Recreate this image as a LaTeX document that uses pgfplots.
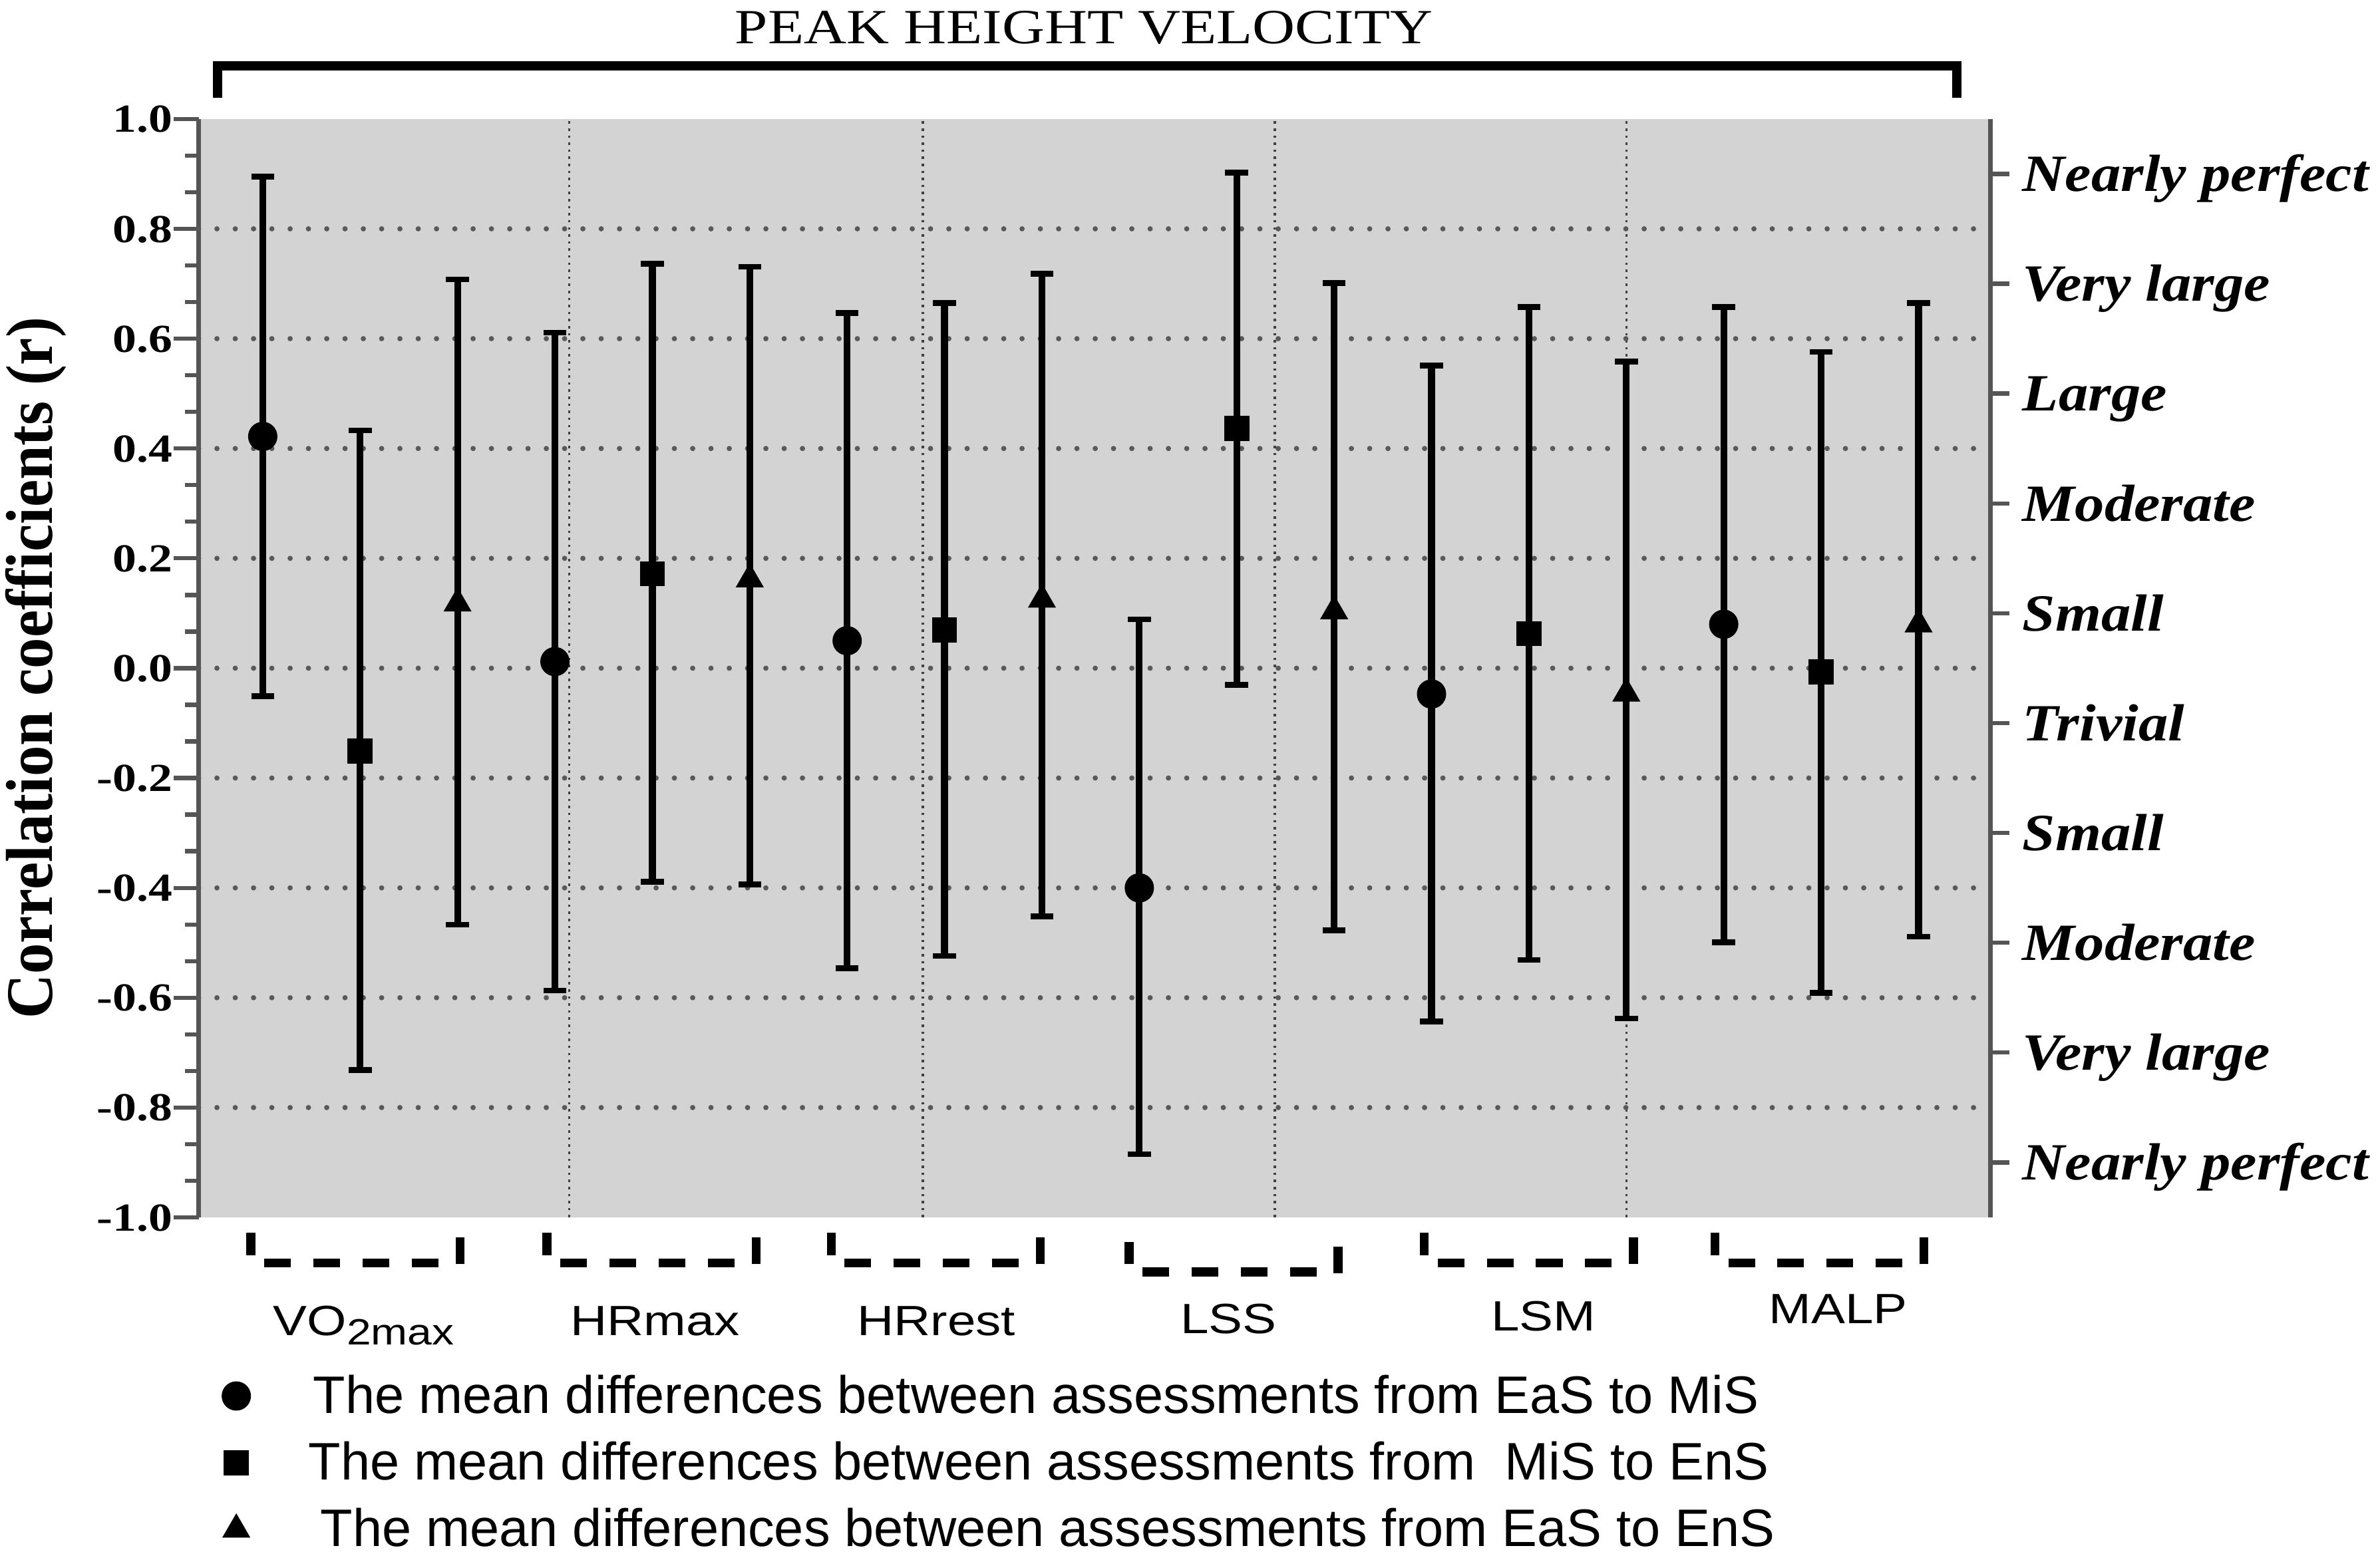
\documentclass[border=0pt]{standalone}
\usepackage{fontspec}
\setmainfont{Liberation Serif}
\newfontfamily\titlefont{Liberation Serif}[FakeStretch=1.2]
\newfontfamily\tickfont{Liberation Serif}[FakeStretch=1.2]
\newfontfamily\ylabfont{Liberation Serif}[FakeStretch=0.93]
\newfontfamily\rightfont{Liberation Serif}[FakeStretch=1.13]
\newfontfamily\grpfont{Liberation Sans}[FakeStretch=1.2]
\newfontfamily\legfont{Liberation Sans}
\usepackage{pgfplots}
\pgfplotsset{compat=1.18}
\usepackage{pgfplotstable}
\definecolor{bggray}{RGB}{211,211,211}
\definecolor{axgray}{RGB}{85,85,85}

% EaS to MiS (circles)
\pgfplotstableread{
x  y      ep    em
0  0.422  0.473 0.473
3  0.012  0.599 0.599
6  0.050  0.597 0.596
9  -0.400 0.489 0.485
12 -0.047 0.598 0.596
15 0.080  0.578 0.579
}\circdata
% MiS to EnS (squares)
\pgfplotstableread{
x  y      ep    em
1  -0.151 0.584 0.581
4  0.172  0.564 0.561
7  0.070  0.595 0.594
10 0.437  0.465 0.467
13 0.063  0.595 0.594
16 -0.007 0.583 0.584
}\sqdata
% EaS to EnS (triangles)
\pgfplotstableread{
x  y      ep    em
2  0.118  0.590 0.585
5  0.162  0.569 0.556
8  0.125  0.593 0.577
11 0.104  0.597 0.581
14 -0.046 0.604 0.592
17 0.080  0.585 0.569
}\tridata

\begin{document}
\begin{tikzpicture}
\begin{axis}[
  at={(0,0)}, anchor=south west,
  scale only axis, width=12.047cm, height=7.386cm,
  xmin=-0.658, xmax=17.74, ymin=-1, ymax=1,
  clip=false,
  axis background/.style={fill=bggray},
  separate axis lines,
  x axis line style={draw=none},
  y axis line style={draw=axgray, line width=0.85pt},
  xtick=\empty,
  extra x ticks={3.146,6.777,10.39,14.003},
  extra x tick labels={,,,},
  extra x tick style={major tick length=0pt, grid=major,
     major grid style={black!75, line width=0.45pt, dash pattern=on 0.45pt off 0.9pt}},
  ytick={-1,-0.8,-0.6,-0.4,-0.2,0,0.2,0.4,0.6,0.8,1},
  yticklabels={-1.0,-0.8,-0.6,-0.4,-0.2,0.0,0.2,0.4,0.6,0.8,1.0},
  minor y tick num=2,
  ytick pos=left,
  tick align=outside,
  major tick length=0.17cm,
  minor tick length=0.094cm,
  tick style={axgray, line width=0.8pt},
  yticklabel style={font=\tickfont\bfseries\fontsize{7.6}{8}\selectfont, anchor=east, inner sep=0pt, text height=5.1pt, text depth=0pt},
  extra y ticks={-0.8,-0.6,-0.4,-0.2,0,0.2,0.4,0.6,0.8},
  extra y tick labels={,,,,,,,,},
  extra y tick style={major tick length=0pt, grid=major,
     major grid style={black!65, line width=1pt, dash pattern=on 0pt off 3.5pt, line cap=round}},
  ylabel={Correlation coefficients (r)},
  every axis y label/.style={at={(axis description cs:-0.0817,0.5)}, rotate=90, anchor=base,
     font=\ylabfont\bfseries\fontsize{12.7}{14}\selectfont},
  legend cell align=left,
  legend style={at={(axis description cs:0,0)}, anchor=north west, xshift=0.046cm, yshift=-1.062cm,
     draw=none, fill=none, inner sep=0pt, outer sep=0pt, row sep=5.57pt,
     font=\legfont\fontsize{10.1}{12}\selectfont,
     nodes={inner sep=0pt, text height=7.2pt, text depth=0pt}},
  legend image code/.code={\draw[#1] plot coordinates {(0.2cm,-0.35pt)}; \path (0,0) (0.71cm,0);},
]
\addplot[only marks, mark=*, mark size=2.6pt, black,
  error bars/.cd, y dir=both, y explicit,
  error bar style={line width=1.3pt, black},
  error mark options={rotate=90, black, line width=1.1pt, mark size=2.2pt}]
  table[x=x, y=y, y error plus=ep, y error minus=em]{\circdata};
\addlegendentry{The mean differences between assessments from EaS to MiS}
\addplot[only marks, mark=square*, mark size=2.2pt, black,
  error bars/.cd, y dir=both, y explicit,
  error bar style={line width=1.3pt, black},
  error mark options={rotate=90, black, line width=1.1pt, mark size=2.2pt}]
  table[x=x, y=y, y error plus=ep, y error minus=em]{\sqdata};
\addlegendentry{\hspace*{-0.9pt}The mean differences between assessments from\ \ MiS to EnS}
\addplot[only marks, mark=triangle*, mark size=2.7pt, black,
  error bars/.cd, y dir=both, y explicit,
  error bar style={line width=1.3pt, black},
  error mark options={rotate=90, black, line width=1.1pt, mark size=2.2pt}]
  table[x=x, y=y, y error plus=ep, y error minus=em]{\tridata};
\addlegendentry{\hspace*{1.4pt}The mean differences between assessments from EaS to EnS}

% group brackets
\draw[line width=1.7pt] (axis cs:-0.122,-1.0282) -- (axis cs:-0.122,-1.0685);
\draw[line width=1.7pt, dash pattern=on 5.1pt off 4.3pt] (axis cs:0.015,-1.0826) -- (axis cs:1.804,-1.0826);
\draw[line width=1.7pt] (axis cs:2.024,-1.0362) -- (axis cs:2.024,-1.0848);

\draw[line width=1.7pt] (axis cs:2.918,-1.0282) -- (axis cs:2.918,-1.0685);
\draw[line width=1.7pt, dash pattern=on 5.1pt off 4.3pt] (axis cs:3.055,-1.0826) -- (axis cs:4.844,-1.0826);
\draw[line width=1.7pt] (axis cs:5.064,-1.0362) -- (axis cs:5.064,-1.0848);

\draw[line width=1.7pt] (axis cs:5.836,-1.0282) -- (axis cs:5.836,-1.0685);
\draw[line width=1.7pt, dash pattern=on 5.1pt off 4.3pt] (axis cs:5.973,-1.0826) -- (axis cs:7.762,-1.0826);
\draw[line width=1.7pt] (axis cs:7.982,-1.0362) -- (axis cs:7.982,-1.0848);

\draw[line width=1.7pt] (axis cs:8.895,-1.0448) -- (axis cs:8.895,-1.0851);
\draw[line width=1.7pt, dash pattern=on 5.1pt off 4.3pt] (axis cs:9.032,-1.0992) -- (axis cs:10.821,-1.0992);
\draw[line width=1.7pt] (axis cs:11.041,-1.0528) -- (axis cs:11.041,-1.1014);

\draw[line width=1.7pt] (axis cs:11.926,-1.0282) -- (axis cs:11.926,-1.0685);
\draw[line width=1.7pt, dash pattern=on 5.1pt off 4.3pt] (axis cs:12.063,-1.0826) -- (axis cs:13.852,-1.0826);
\draw[line width=1.7pt] (axis cs:14.072,-1.0362) -- (axis cs:14.072,-1.0848);

\draw[line width=1.7pt] (axis cs:14.91,-1.0282) -- (axis cs:14.91,-1.0685);
\draw[line width=1.7pt, dash pattern=on 5.1pt off 4.3pt] (axis cs:15.047,-1.0826) -- (axis cs:16.836,-1.0826);
\draw[line width=1.7pt] (axis cs:17.056,-1.0362) -- (axis cs:17.056,-1.0848);

% group labels
\node[anchor=base, font=\grpfont\fontsize{8.1}{10}\selectfont] at (axis cs:1.036,-1.2144) {VO\raisebox{-1.9pt}{\fontsize{7}{8}\selectfont 2max}};
\node[anchor=base, font=\grpfont\fontsize{8.1}{10}\selectfont] at (axis cs:4.028,-1.2144) {HRmax};
\node[anchor=base, font=\grpfont\fontsize{8.1}{10}\selectfont] at (axis cs:6.917,-1.2144) {HRrest};
\node[anchor=base, font=\grpfont\fontsize{8.1}{10}\selectfont] at (axis cs:9.917,-1.2116) {LSS};
\node[anchor=base, font=\grpfont\fontsize{8.1}{10}\selectfont] at (axis cs:13.151,-1.2064) {LSM};
\node[anchor=base, font=\grpfont\fontsize{8.1}{10}\selectfont] at (axis cs:16.174,-1.1937) {MALP};
\end{axis}

\begin{axis}[
  at={(0,0)}, anchor=south west,
  scale only axis, width=12.047cm, height=7.386cm,
  xmin=0, xmax=1, ymin=-1, ymax=1,
  axis line style={draw=none},
  xtick=\empty,
  ytick={-0.9,-0.7,-0.5,-0.3,-0.1,0.1,0.3,0.5,0.7,0.9},
  yticklabels={Nearly perfect,Very large,Moderate,Small,Trivial,Small,Moderate,Large,Very large,Nearly perfect},
  ytick pos=right, yticklabel pos=right,
  tick align=outside,
  major tick length=0.128cm,
  tick style={axgray, line width=0.8pt},
  yticklabel style={font=\rightfont\bfseries\itshape\fontsize{10}{12}\selectfont, anchor=west, inner sep=0pt, xshift=0.08cm, text height=6.7pt, text depth=0pt},
]
\end{axis}

\node[anchor=base, font=\titlefont\fontsize{9.4}{11}\selectfont] at (5.952cm,7.895cm) {PEAK HEIGHT VELOCITY};
\draw[line width=1.8pt] (0.1275cm,7.528cm) -- (0.1275cm,7.744cm) -- (11.818cm,7.744cm) -- (11.818cm,7.528cm);

\pgfresetboundingbox
\path[use as bounding box] (-1.3356cm,-2.259cm) rectangle (14.665cm,8.186cm);
\end{tikzpicture}
\end{document}
